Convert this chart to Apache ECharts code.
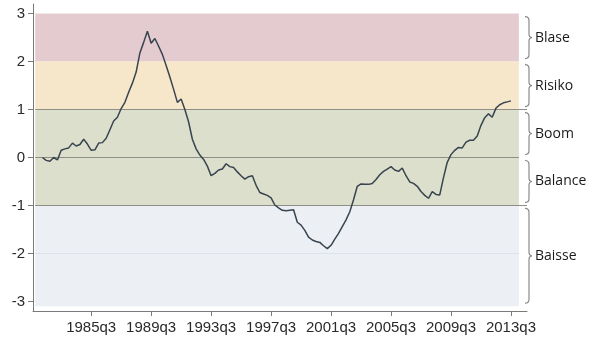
<!DOCTYPE html>
<html>
<head>
<meta charset="utf-8">
<script src="https://cdn.jsdelivr.net/npm/echarts@6/dist/echarts.min.js"></script>
<style>
  html, body { margin: 0; padding: 0; background: #fff; }
  #chart { width: 600px; height: 344px; }
</style>
</head>
<body>
<div id="chart"></div>
<script>
// quarterly index values, first quarter = 1982q2
const firstQuarter = '1982q2';
const indexValues = [
  0.00, -0.06, -0.08, 0.00, -0.05, 0.15, 0.18, 0.20, 0.30, 0.24,
  0.27, 0.38, 0.28, 0.15, 0.16, 0.30, 0.31, 0.40, 0.58, 0.76,
  0.84, 1.02, 1.15, 1.36, 1.55, 1.78, 2.18, 2.40, 2.63, 2.38,
  2.48, 2.32, 2.15, 1.92, 1.68, 1.42, 1.15, 1.22, 1.00, 0.74,
  0.38, 0.18, 0.05, -0.04, -0.18, -0.38, -0.33, -0.26, -0.24, -0.13,
  -0.19, -0.21, -0.30, -0.38, -0.45, -0.40, -0.38, -0.58, -0.73, -0.76,
  -0.79, -0.84, -0.99, -1.05, -1.10, -1.11, -1.10, -1.09, -1.35, -1.41,
  -1.52, -1.66, -1.72, -1.75, -1.77, -1.84, -1.90, -1.83, -1.70, -1.58,
  -1.44, -1.30, -1.13, -0.88, -0.60, -0.55, -0.56, -0.56, -0.54, -0.46,
  -0.36, -0.29, -0.24, -0.19, -0.26, -0.29, -0.22, -0.38, -0.51, -0.54,
  -0.60, -0.71, -0.79, -0.85, -0.71, -0.77, -0.78, -0.42, -0.10, 0.06,
  0.15, 0.21, 0.20, 0.32, 0.36, 0.36, 0.45, 0.67, 0.83, 0.91,
  0.84, 1.03, 1.10, 1.14, 1.16, 1.18
];

const xTickLabels = ['1985q3', '1989q3', '1993q3', '1997q3', '2001q3', '2005q3', '2009q3', '2013q3'];
const yTicks = [-3, -2, -1, 0, 1, 2, 3];

const bandNames = ['Blase', 'Risiko', 'Boom', 'Balance', 'Baisse'];
const bandTop = [3, 2, 1, 0, -1];
const bandBottom = [2, 1, 0, -1, -3.1];
const bandColors = ['#e3cbcf', '#f6e7ca', '#dcdfcb', '#dcdfcb', '#eceff3'];

function qToNum(q) {
  const y = parseInt(q.slice(0, 4), 10);
  const n = parseInt(q.slice(5), 10);
  return y + (n - 1) / 4;
}

// build quarter labels for the series
const quarters = [];
{
  let y = parseInt(firstQuarter.slice(0, 4), 10);
  let n = parseInt(firstQuarter.slice(5), 10);
  for (let i = 0; i < indexValues.length; i++) {
    quarters.push(y + 'q' + n);
    n++;
    if (n > 4) { n = 1; y++; }
  }
}

const xMin = 1981.62;
const xMax = 2014.57;
const bandLeft = 1981.77;
const bandRight = 2014.03;
const tickNums = xTickLabels.map(qToNum);

const chart = echarts.init(document.getElementById('chart'), null, { renderer: 'canvas' });

const lineData = quarters.map((q, i) => [qToNum(q), indexValues[i]]);

const bandAreas = bandNames.map((name, i) => [
  { xAxis: bandLeft, yAxis: bandTop[i], itemStyle: { color: bandColors[i] } },
  { xAxis: bandRight, yAxis: bandBottom[i] }
]);

const refLines = [
  [{ xAxis: bandLeft, yAxis: 1 }, { xAxis: xMax, yAxis: 1 }],
  [{ xAxis: bandLeft, yAxis: 0 }, { xAxis: bandRight, yAxis: 0 }],
  [{ xAxis: bandLeft, yAxis: -1 }, { xAxis: xMax, yAxis: -1 }],
  [{ xAxis: bandLeft, yAxis: -2, lineStyle: { color: '#dde2e8' } }, { xAxis: bandRight, yAxis: -2 }]
];

const braceData = bandNames.map((name, i) => [xMax, bandTop[i], bandBottom[i], i]);

function renderBrace(params, api) {
  const top = api.coord([api.value(0), api.value(1)]);
  const bot = api.coord([api.value(0), api.value(2)]);
  const x0 = top[0] - 2;
  const xm = top[0] + 2;
  const xp = top[0] + 5;
  const y1 = top[1] + 3;
  const y2 = bot[1] - 3;
  const ym = (y1 + y2) / 2;
  const r = 4;
  const d = 'M' + x0 + ' ' + y1 +
    ' Q' + xm + ' ' + y1 + ' ' + xm + ' ' + (y1 + r) +
    ' L' + xm + ' ' + (ym - r) +
    ' Q' + xm + ' ' + ym + ' ' + xp + ' ' + ym +
    ' Q' + xm + ' ' + ym + ' ' + xm + ' ' + (ym + r) +
    ' L' + xm + ' ' + (y2 - r) +
    ' Q' + xm + ' ' + y2 + ' ' + x0 + ' ' + y2;
  return {
    type: 'group',
    children: [
      {
        type: 'path',
        shape: { pathData: d },
        style: { stroke: '#8a8a8a', fill: null, lineWidth: 1.2 }
      },
      {
        type: 'text',
        x: xp + 3,
        y: ym,
        style: {
          text: bandNames[api.value(3)],
          fill: '#1a1a1a',
          font: '14px "Open Sans", sans-serif',
          verticalAlign: 'middle',
          align: 'left'
        }
      }
    ]
  };
}

const option = {
  animation: false,
  grid: { left: 33, right: 73, top: 4, bottom: 33 },
  xAxis: {
    type: 'value',
    min: xMin,
    max: xMax,
    splitLine: { show: false },
    axisLine: { onZero: false, lineStyle: { color: '#7a7a7a', width: 1 } },
    axisTick: { length: 5, customValues: tickNums, lineStyle: { color: '#7a7a7a' } },
    axisLabel: {
      customValues: tickNums,
      margin: 9,
      color: '#2a2a2a',
      fontSize: 15,
      fontFamily: '"Liberation Sans", Arial, sans-serif',
      formatter: v => xTickLabels[tickNums.indexOf(v)] || ''
    }
  },
  yAxis: {
    type: 'value',
    min: -3.2,
    max: 3.2,
    splitLine: { show: false },
    axisLine: { show: true, lineStyle: { color: '#7a7a7a', width: 1 } },
    axisTick: { show: true, length: 5, customValues: yTicks, lineStyle: { color: '#7a7a7a' } },
    axisLabel: {
      customValues: yTicks,
      margin: 8,
      color: '#2a2a2a',
      fontSize: 15,
      fontFamily: '"Liberation Sans", Arial, sans-serif'
    }
  },
  series: [
    {
      type: 'line',
      data: lineData,
      showSymbol: false,
      z: 5,
      lineStyle: { color: '#38444f', width: 1.5 },
      markArea: { silent: true, data: bandAreas },
      markLine: {
        silent: true,
        symbol: ['none', 'none'],
        label: { show: false },
        lineStyle: { color: '#8e8e86', width: 1, type: 'solid' },
        data: refLines
      }
    },
    {
      type: 'custom',
      clip: false,
      silent: true,
      data: braceData,
      encode: { x: 0, y: [1, 2] },
      renderItem: renderBrace
    }
  ]
};

chart.setOption(option);
</script>
</body>
</html>
